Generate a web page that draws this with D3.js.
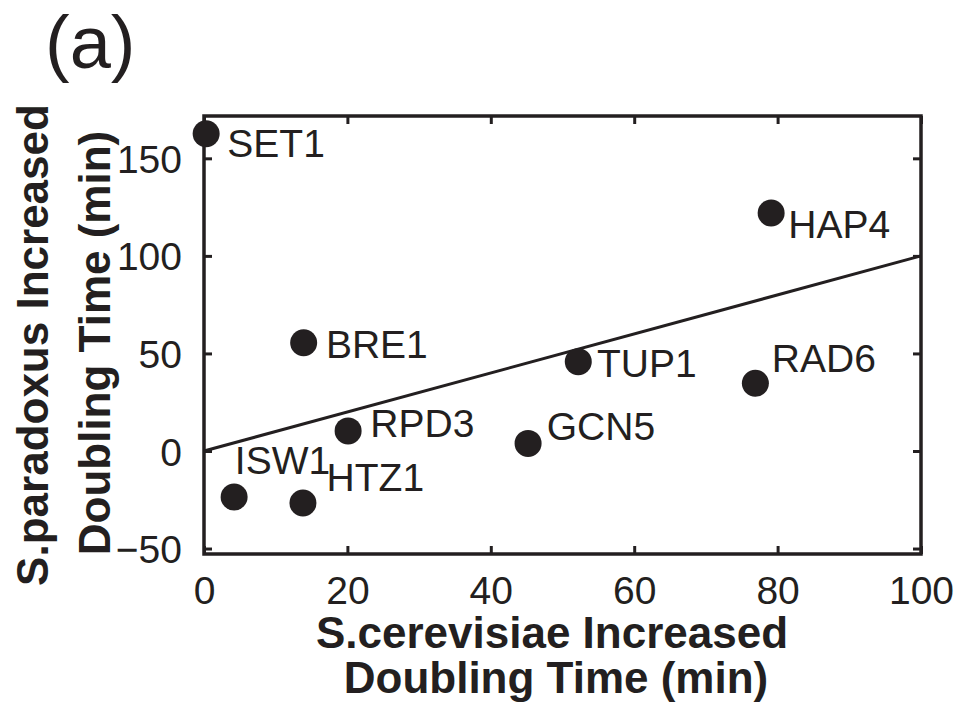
<!DOCTYPE html>
<html>
<head>
<meta charset="utf-8">
<script src="https://cdn.jsdelivr.net/npm/d3@7"></script>
<style>
  html, body { margin: 0; padding: 0; background: #fff; }
  svg { display: block; }
  text { font-family: "Liberation Sans", Arial, Helvetica, sans-serif; fill: #231f20; }
</style>
</head>
<body>
<svg id="chart" width="960" height="703"></svg>
<script>
// ---- data ----
const genes = ["SET1", "HAP4", "BRE1", "TUP1", "RAD6", "RPD3", "GCN5", "ISW1", "HTZ1"];
const cerevisiae = [0.3, 79.1, 13.9, 52.2, 76.9, 20.1, 45.2, 4.2, 13.8];
const paradoxus = [162.6, 122, 55.5, 45.8, 34.7, 10.3, 3.9, -23.6, -26.7];
// label anchor points (data units, text baseline)
const labelX = [3.25, 81.5, 17.0, 54.8, 79.2, 23.2, 47.8, 4.3, 17.1];
const labelY = [150.6, 109.1, 47.7, 38.1, 40.7, 7.3, 5.6, -11.8, -20.4];
const xTicks = [0, 20, 40, 60, 80, 100];
const yTicks = [-50, 0, 50, 100, 150];
const refLine = [[0, 0], [100, 100]];
const panelLabel = "(a)";
const xTitle = ["S.cerevisiae Increased", "Doubling Time (min)"];
const yTitle = ["S.paradoxus Increased", "Doubling Time (min)"];

// ---- layout ----
const ink = "#231f20";
const L = 204, R = 921, T = 116, B = 554;
const x = d3.scaleLinear().domain([0, 100]).range([L, R]);
const y = d3.scaleLinear().domain([-52.8, 171.7]).range([B, T]);

const svg = d3.select("#chart");

// reference line y = x
svg.append("path")
  .datum(refLine)
  .attr("d", d3.line().x(d => x(d[0])).y(d => y(d[1])))
  .attr("fill", "none").attr("stroke", ink).attr("stroke-width", 3);

// axes with inward ticks
const tickLen = 8;
const gB = svg.append("g").attr("transform", `translate(0,${B})`)
  .call(d3.axisBottom(x).tickValues(xTicks).tickSizeInner(-tickLen).tickSizeOuter(0).tickPadding(tickLen + 14));
const gT = svg.append("g").attr("transform", `translate(0,${T})`)
  .call(d3.axisTop(x).tickValues(xTicks).tickSizeInner(-tickLen).tickSizeOuter(0).tickFormat(""));
const gL = svg.append("g").attr("transform", `translate(${L},0)`)
  .call(d3.axisLeft(y).tickValues(yTicks).tickSizeInner(-tickLen).tickSizeOuter(0).tickPadding(tickLen + 14));
const gR = svg.append("g").attr("transform", `translate(${R},0)`)
  .call(d3.axisRight(y).tickValues(yTicks).tickSizeInner(-tickLen).tickSizeOuter(0).tickFormat(""));

[gB, gT, gL, gR].forEach(g => {
  g.select(".domain").remove();
  g.selectAll(".tick line").attr("stroke", ink).attr("stroke-width", 3);
  g.selectAll(".tick text")
    .attr("fill", ink)
    .style("font-family", '"Liberation Sans", Arial, sans-serif')
    .style("font-size", "39px");
});
gB.selectAll(".tick text").attr("dy", "0.71em");
gL.selectAll(".tick text").attr("dy", "0.36em");

// box
svg.append("rect")
  .attr("x", L).attr("y", T).attr("width", R - L).attr("height", B - T)
  .attr("fill", "none").attr("stroke", ink).attr("stroke-width", 3.5);

// points
const idx = d3.range(genes.length);
svg.append("g").selectAll("circle").data(idx).join("circle")
  .attr("cx", i => x(cerevisiae[i]))
  .attr("cy", i => y(paradoxus[i]))
  .attr("r", 13.5)
  .attr("fill", ink);

// labels
svg.append("g").selectAll("text").data(idx).join("text")
  .attr("x", i => x(labelX[i]))
  .attr("y", i => y(labelY[i]))
  .style("font-size", "39px")
  .text(i => genes[i]);

// panel label
svg.append("text").attr("x", 45).attr("y", 68)
  .style("font-size", "74px").text(panelLabel);

// x title
svg.append("text").attr("x", 552).attr("y", 648)
  .attr("text-anchor", "middle").style("font-size", "44px").style("font-weight", "bold")
  .text(xTitle[0]);
svg.append("text").attr("x", 556).attr("y", 693)
  .attr("text-anchor", "middle").style("font-size", "44px").style("font-weight", "bold")
  .text(xTitle[1]);

// y title
svg.append("text").attr("transform", "translate(48,345) rotate(-90)")
  .attr("text-anchor", "middle").style("font-size", "44px").style("font-weight", "bold")
  .text(yTitle[0]);
svg.append("text").attr("transform", "translate(110,343) rotate(-90)")
  .attr("text-anchor", "middle").style("font-size", "44px").style("font-weight", "bold")
  .text(yTitle[1]);
</script>
</body>
</html>
